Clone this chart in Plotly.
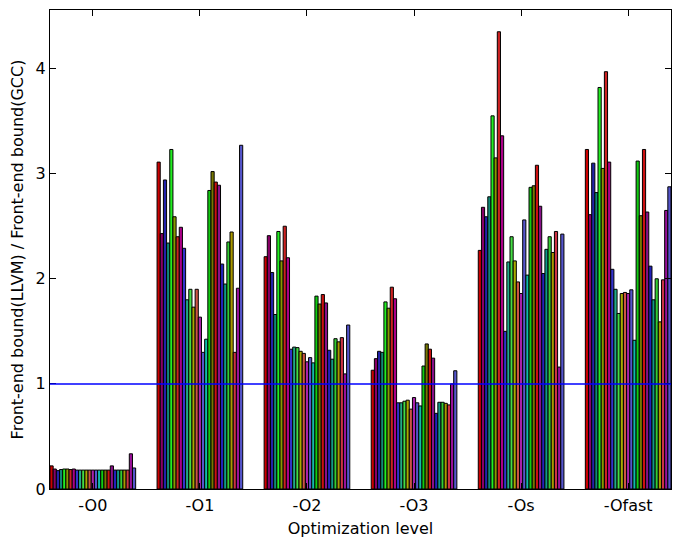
import plotly.graph_objects as go

levels = ["-O0", "-O1", "-O2", "-O3", "-Os", "-Ofast"]

# one list per benchmark: values for -O0, -O1, -O2, -O3, -Os, -Ofast
ratios = [
    [0.22, 3.11, 2.21, 1.13, 2.27, 3.23],
    [0.19, 2.43, 2.41, 1.24, 2.68, 2.61],
    [0.175, 2.94, 2.06, 1.31, 2.59, 3.10],
    [0.185, 2.34, 1.66, 1.30, 2.78, 2.82],
    [0.19, 3.23, 2.45, 1.78, 3.55, 3.82],
    [0.19, 2.59, 2.17, 1.72, 3.15, 3.05],
    [0.185, 2.40, 2.50, 1.92, 4.35, 3.97],
    [0.19, 2.49, 2.20, 1.81, 3.36, 3.11],
    [0.18, 2.29, 1.33, 0.82, 1.50, 2.09],
    [0.18, 1.80, 1.35, 0.82, 2.16, 1.90],
    [0.18, 1.90, 1.345, 0.835, 2.40, 1.67],
    [0.18, 1.73, 1.31, 0.845, 2.17, 1.86],
    [0.18, 1.90, 1.29, 0.76, 1.97, 1.87],
    [0.18, 1.635, 1.21, 0.87, 1.86, 1.86],
    [0.18, 1.30, 1.25, 0.82, 2.56, 1.895],
    [0.18, 1.425, 1.20, 0.79, 2.035, 1.415],
    [0.18, 2.84, 1.835, 1.17, 2.87, 3.12],
    [0.18, 3.02, 1.76, 1.38, 2.885, 2.60],
    [0.18, 2.92, 1.85, 1.33, 3.08, 3.23],
    [0.22, 2.89, 1.77, 1.245, 2.69, 2.635],
    [0.18, 2.14, 1.32, 0.72, 2.05, 2.12],
    [0.18, 1.95, 1.235, 0.825, 2.28, 1.80],
    [0.18, 2.35, 1.43, 0.825, 2.40, 2.00],
    [0.18, 2.445, 1.40, 0.815, 2.25, 1.59],
    [0.18, 1.30, 1.44, 0.80, 2.45, 1.99],
    [0.335, 1.91, 1.095, 1.0, 1.16, 2.65],
    [0.20, 3.27, 1.56, 1.125, 2.425, 2.875],
]

colors = [
    "#cc0000", "#880066", "#2222aa", "#118877", "#22ee22", "#889900",
    "#cc2222", "#aa0088", "#3333cc", "#22aa88", "#44dd44", "#aaaa00",
    "#cc5544", "#aa22aa", "#5555cc", "#11bbaa", "#11cc11", "#777700",
    "#cc1111", "#881188", "#2222bb", "#119988", "#33cc33", "#aa9900",
    "#cc3344", "#991199", "#5555cc",
]

n = len(ratios)
w = 0.8 / n
fig = go.Figure()
for k, vals in enumerate(ratios):
    fig.add_trace(go.Bar(
        x=[i + k * w + w / 2 for i in range(len(levels))],
        y=vals,
        width=w,
        marker=dict(color=colors[k], line=dict(color="black", width=1)),
        showlegend=False,
    ))

fig.add_hline(y=1, line=dict(color="blue", width=1.5))

fig.update_layout(
    width=681, height=548,
    margin=dict(l=50, r=10, t=10, b=59),
    plot_bgcolor="white", paper_bgcolor="white",
    barmode="overlay",
    font=dict(family="DejaVu Sans", size=16, color="black"),
)
fig.update_xaxes(
    range=[0, 5.8],
    tickvals=[i + 0.4 for i in range(len(levels))],
    ticktext=levels,
    ticks="inside", ticklen=6, tickcolor="black",
    showline=True, linecolor="black", linewidth=1, mirror="ticks",
    showgrid=False, zeroline=False,
    ticklabelstandoff=2,
    title=dict(text="Optimization level", font=dict(size=16), standoff=8),
    tickfont=dict(size=16),
)
fig.update_yaxes(
    range=[0, 4.557],
    tickvals=[0, 1, 2, 3, 4],
    ticks="inside", ticklen=6, tickcolor="black",
    showline=True, linecolor="black", linewidth=1, mirror="ticks",
    showgrid=False, zeroline=False,
    title=dict(text="Front-end bound(LLVM) / Front-end bound(GCC)", font=dict(size=16), standoff=8),
    tickfont=dict(size=16),
)

fig.write_html("out.html")
